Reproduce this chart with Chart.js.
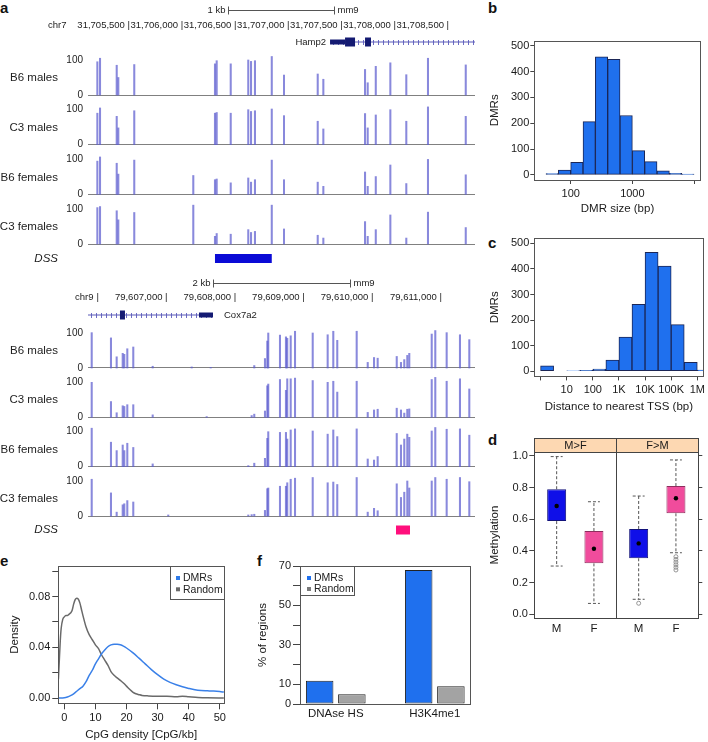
<!DOCTYPE html>
<html>
<head>
<meta charset="utf-8">
<script src="https://cdn.jsdelivr.net/npm/chart.js@4.4.1/dist/chart.umd.min.js"></script>
<style>
  html, body { margin: 0; padding: 0; background: #fff; }
  #fig { position: relative; width: 708px; height: 742px; overflow: hidden; font-family: 'Liberation Sans', Arial, sans-serif; }
  #fig canvas { position: absolute; }
  .tag { position: absolute; font-weight: bold; font-size: 15px; line-height: 16px; color: #111; }
</style>
</head>
<body>
<div id="fig">
  <div class="tag" style="left:0px;top:0px">a</div>
  <div class="tag" style="left:488px;top:0px">b</div>
  <div class="tag" style="left:488px;top:235px">c</div>
  <div class="tag" style="left:488px;top:432px">d</div>
  <div class="tag" style="left:0px;top:553px">e</div>
  <div class="tag" style="left:257px;top:553px">f</div>
</div>
<script>
// ---- panel a : methylation at CpG sites (% methylated) ----
const trackNames = ['B6 males', 'C3 males', 'B6 females', 'C3 females'];

const hampCpG = [31705193, 31705218, 31705375, 31705390, 31705540, 31706095, 31706299, 31706315, 31706447, 31706612,
  31706638, 31706675, 31706833, 31706948, 31707265, 31707318, 31707710, 31707735, 31707811, 31707948,
  31708098, 31708302, 31708657];
const hampB6m = [95, 105, 85, 50, 87, null, 89, 98, 89, 100, 96, 98, 110, 57, 60, 45, 73, 35, 82, 92, 58, 105, 86];
const hampC3m = [90, 105, 81, 48, 97, null, 90, 92, 90, 100, 95, 97, 102, 83, 67, 45, 89, 48, 85, 100, 67, 108, 81];
const hampB6f = [95, 107, 89, 58, 98, 54, 42, 44, 33, 47, 35, 42, 98, 42, 35, 23, 64, 23, 51, 84, 31, 100, 56];
const hampC3f = [104, 107, 95, 69, 90, 111, 22, 30, 28, 41, 33, 36, 111, 43, 25, 17, 64, 22, 41, 83, 17, 91, 47];
const hampTicks = [31705500, 31706000, 31706500, 31707000, 31707500, 31708000, 31708500];
const hampGeneSpan = [31707381, 31708800];
const hampUtr = [[31707381, 31707522]];
const hampCds = [[31707522, 31707616], [31707710, 31707766]];
const hampDss = [31706299, 31706833];

const coxCpG = [79605894, 79606175, 79606258, 79606346, 79606369, 79606413, 79606500, 79606783, 79607010, 79607352,
  79607570, 79607629, 79608177, 79608226, 79608264, 79608420, 79608454, 79608468, 79608639, 79608726,
  79608745, 79608795, 79608858, 79609116, 79609334, 79609416, 79609474, 79609757, 79609918, 79610010,
  79610063, 79610341, 79610403, 79610451, 79610495, 79610524, 79610851, 79610903, 79611069, 79611263, 79611399];
const coxB6m = [101, 86, 32, 42, 39, 55, 60, 5, null, 3, null, 2, null, null, 7, 27, 77, 100, 94, 89, 85, 92, 105, 100,
  95, 105, 79, 105, 16, 30, 28, 33, 16, 24, 36, 42, 97, 107, 101, 95, 81];
const coxC3m = [100, 45, 13, 33, 31, 36, 36, 7, null, null, 2, null, null, 5, 9, 18, 90, 95, 108, 77, 110, 110, 112, 105,
  100, 103, 72, 103, 14, 21, 23, 26, 21, 12, 23, 24, 108, 114, 103, 110, 81];
const coxB6f = [110, 70, 46, 62, 46, 67, 55, 8, null, null, null, null, 3, null, 10, 24, 81, 100, 98, 98, 79, 105, 108, 102,
  93, 105, 86, 108, 22, 19, 29, 95, 62, 79, 93, 84, 102, 112, 107, 108, 90];
const coxC3f = [105, 66, 11, 32, 35, 44, 40, null, 3, null, null, null, 3, 4, 5, 16, 78, 80, 85, 85, 95, 105, 108, 110,
  95, 97, 90, 110, 11, 22, 15, 92, 53, 68, 100, 80, 100, 110, 105, 110, 98];
const coxTicks = [79606000, 79607000, 79608000, 79609000, 79610000, 79611000];
const coxGeneSpan = [79605700, 79607662];
const coxUtr = [[79607458, 79607662]];
const coxCds = [[79606306, 79606379]];
const coxDss = [79610330, 79610534];

// ---- panel b / c : histograms (log10 bin centres) ----
const countTicks = [0, 100, 200, 300, 400, 500];
const sizeBins = [1.7, 1.9, 2.1, 2.3, 2.5, 2.7, 2.9, 3.1, 3.3, 3.5, 3.7, 3.9];
const sizeCounts = [5, 18, 48, 206, 457, 447, 230, 94, 51, 16, 6, 3];
const sizeTicks = [2, 3, 4];
const sizeLabels = ['100', '1000', ''];
const tssBins = [0.25, 0.75, 1.25, 1.75, 2.25, 2.75, 3.25, 3.75, 4.25, 4.75, 5.25, 5.75, 6.25];
const tssCounts = [21, 0, 2, 4, 9, 44, 134, 262, 465, 411, 182, 35, 5];
const tssTicks = [0, 1, 2, 3, 4, 5, 6];
const tssLabels = ['', '10', '100', '1K', '10K', '100K', '1M'];

// ---- panel d : methylation boxplots ----
const dPanels = ['M>F', 'F>M'];
const dGroups = ['M', 'F', 'M', 'F'];
const dLow = [0.305, 0.069, 0.095, 0.389];
const dQ1 = [0.589, 0.322, 0.354, 0.638];
const dMed = [0.684, 0.414, 0.448, 0.733];
const dQ3 = [0.79, 0.526, 0.539, 0.81];
const dHigh = [0.996, 0.711, 0.747, 0.975];
const dOutliers = [[], [], [0.07], [0.364, 0.347, 0.33, 0.313, 0.297, 0.28]];
const methTicks = [0, 0.2, 0.4, 0.6, 0.8, 1.0];

// ---- panel e : CpG density curves ----
const randX = [-1.9, -1.6, -1.3, -1, -0.5, 0, 0.5, 1, 1.5, 2, 2.5, 3, 3.5, 4, 4.5, 5, 5.5, 6, 7, 8, 9, 10, 11, 12, 13, 14,
  15, 16, 17, 18, 19, 20, 21, 22, 23, 24, 25, 27, 30, 33, 36, 38, 40, 43, 46, 51.3];
const randY = [0.015, 0.03, 0.045, 0.055, 0.062, 0.064, 0.065, 0.065, 0.066, 0.067, 0.069, 0.074, 0.0775, 0.0787, 0.078,
  0.075, 0.070, 0.065, 0.056, 0.050, 0.046, 0.042, 0.039, 0.034, 0.030, 0.026, 0.021, 0.018, 0.016, 0.014, 0.012,
  0.0095, 0.007, 0.0048, 0.0035, 0.0028, 0.0022, 0.0018, 0.0016, 0.0016, 0.0012, 0.0016, 0.0012, 0.0006, 0.0003, 0.0002];
const dmrX = [-1.9, 0, 1, 2, 3, 4, 5, 6, 7, 8, 9, 10, 11, 12, 13, 14, 15, 16, 17, 18, 19, 20, 22, 24, 26, 28, 30, 32, 34,
  36, 38, 40, 42, 44, 46, 48, 50, 51.3];
const dmrY = [0.0002, 0.0004, 0.001, 0.002, 0.0035, 0.0055, 0.0075, 0.0095, 0.013, 0.018, 0.022, 0.027, 0.031, 0.035,
  0.038, 0.0405, 0.042, 0.0425, 0.0424, 0.042, 0.041, 0.0395, 0.0358, 0.0315, 0.027, 0.0225, 0.0185, 0.015, 0.0125,
  0.0106, 0.009, 0.0077, 0.0066, 0.006, 0.0058, 0.0056, 0.0052, 0.0048];
const densTicksX = [0, 10, 20, 30, 40, 50];
const densTicksY = [0, 0.02, 0.04, 0.06, 0.08, 0.10];
const densLabelled = [0, 0.04, 0.08];

// ---- panel f : overlap with regulatory marks ----
const marks = ['DNAse HS', 'H3K4me1'];
const dmrPct = [11.8, 68.0];
const randomPct = [4.9, 9.0];
const pctTicks = [0, 10, 20, 30, 40, 50, 60, 70];
const pctLabelled = [0, 10, 30, 50, 70];

// ---------------------------------------------------------------
const FONT = "'Liberation Sans', Arial, Helvetica, sans-serif";
const BLUE = '#1f70ee';
const GREY = '#a3a3a3';
const GENE = '#141a72';
Chart.defaults.font.family = FONT;
Chart.defaults.font.size = 11;
Chart.defaults.color = '#1a1a1a';
Chart.defaults.animation = false;
Chart.defaults.responsive = false;
Chart.defaults.events = [];
Chart.defaults.plugins.legend.display = false;
Chart.defaults.plugins.tooltip.enabled = false;

function panel(left, top, w, h) {
  const c = document.createElement('canvas');
  c.width = w; c.height = h;
  c.style.left = left + 'px'; c.style.top = top + 'px';
  c.style.width = w + 'px'; c.style.height = h + 'px';
  document.getElementById('fig').appendChild(c);
  return c;
}

// box around the plotting region (R style)
const frame = {
  id: 'frame',
  afterDatasetsDraw(chart) {
    const a = chart.chartArea, c = chart.ctx;
    c.save();
    c.strokeStyle = '#555'; c.lineWidth = 1;
    c.strokeRect(Math.round(a.left) + 0.5, Math.round(a.top) + 0.5, Math.round(a.right - a.left), Math.round(a.bottom - a.top));
    c.restore();
  }
};

function legendBox(side, w, h, dx, rows) {
  return {
    id: 'legendBox',
    afterDraw(chart) {
      const {ctx, chartArea: a} = chart;
      const x0 = side === 'right' ? Math.round(a.right) - w : Math.round(a.left);
      const y0 = Math.round(a.top);
      ctx.save();
      ctx.fillStyle = '#fff'; ctx.fillRect(x0, y0, w, h);
      ctx.strokeStyle = '#555'; ctx.lineWidth = 1;
      ctx.strokeRect(x0 + 0.5, y0 + 0.5, w, h);
      ctx.font = '10.5px ' + FONT; ctx.textBaseline = 'middle'; ctx.textAlign = 'left';
      chart.data.datasets.forEach((ds, i) => {
        const y = y0 + rows[i];
        ctx.fillStyle = ds.legendColor;
        ctx.fillRect(x0 + dx, y - 2, 4, 4);
        ctx.fillStyle = '#222';
        ctx.fillText(ds.label, x0 + dx + 7, y + 0.5);
      });
      ctx.restore();
    }
  };
}

// ---------------- panel a ----------------
const K = 0.35;   // pixels per methylation percent inside a track

function seg(list, row, width, color, order) {
  const data = [];
  list.forEach(s => { data.push({x: s[0], y: row}, {x: s[1], y: row}, {x: s[1], y: null}); });
  return {type: 'line', data, borderColor: color, borderWidth: width, pointRadius: 0,
    borderCapStyle: 'butt', spanGaps: false, order};
}

function regionAnnot(r) {
  return {
    id: 'regionAnnot',
    beforeDatasetsDraw(chart) {
      const {ctx, chartArea: a, scales: {x, y}} = chart;
      const yy = Math.round(y.getPixelForValue(r.geneRow));
      const x0 = Math.max(x.getPixelForValue(r.geneSpan[0]), a.left);
      const x1 = Math.min(x.getPixelForValue(r.geneSpan[1]), a.right);
      ctx.save();
      ctx.strokeStyle = '#6d6dc4'; ctx.lineWidth = 1;
      for (let px = Math.round(x0) + 3; px < x1 - 1; px += 5) {
        ctx.beginPath(); ctx.moveTo(px + 0.5, yy - 2); ctx.lineTo(px + 0.5, yy + 3); ctx.stroke();
      }
      ctx.restore();
    },
    afterDraw(chart) {
      const {ctx, scales: {x, y}} = chart;
      ctx.save();
      ctx.fillStyle = '#222';
      ctx.textBaseline = 'middle';
      // scale bar
      const xa = Math.round(x.getPixelForValue(r.barStart)) + 0.5;
      const xb = Math.round(x.getPixelForValue(r.barStart + r.barLen)) + 0.5;
      ctx.strokeStyle = '#555'; ctx.lineWidth = 1;
      ctx.beginPath();
      ctx.moveTo(xa, r.barY); ctx.lineTo(xb, r.barY);
      ctx.moveTo(xa, r.barY - 4); ctx.lineTo(xa, r.barY + 4);
      ctx.moveTo(xb, r.barY - 4); ctx.lineTo(xb, r.barY + 4);
      ctx.stroke();
      ctx.font = '9.5px ' + FONT;
      ctx.textAlign = 'right'; ctx.fillText(r.barText, xa - 3, r.barY);
      ctx.textAlign = 'left'; ctx.fillText('mm9', xb + 3, r.barY);
      ctx.fillText(r.chr, r.chrX, r.chrY);
      // gene label
      ctx.textAlign = r.geneAlign;
      ctx.fillText(r.geneName, r.geneLabelX, y.getPixelForValue(r.geneRow));
      // track names
      ctx.font = '11.5px ' + FONT;
      ctx.textAlign = 'right';
      r.bases.forEach((b, i) => ctx.fillText(trackNames[i], 58, y.getPixelForValue(b + 17)));
      ctx.font = 'italic 11.5px ' + FONT;
      ctx.fillText('DSS', 58, y.getPixelForValue(r.dssRow));
      ctx.restore();
    }
  };
}

function regionChart(canvas, r) {
  const zeroSet = new Set(r.bases);
  const datasets = [
    seg([r.dss], r.dssRow, 9, r.dssColor, 0),
    seg(r.cds, r.geneRow, 9, GENE, 1),
    seg(r.utr, r.geneRow, 5, GENE, 2),
    seg([r.geneSpan], r.geneRow, 1, '#5a5ab8', 3)
  ];
  r.tracks.forEach((vals, i) => {
    datasets.push({
      type: 'bar',
      data: r.cpg.map((pos, j) => vals[j] == null ? null : {x: pos, y: [r.bases[i], r.bases[i] + vals[j] * K]}).filter(Boolean),
      backgroundColor: 'rgba(92,92,206,0.72)',
      barThickness: 1.4,
      grouped: false,
      order: 4
    });
  });
  const yTicks = r.bases.flatMap(b => [b, b + 100 * K]).sort((p, q) => p - q);
  return new Chart(canvas, {
    type: 'bar',
    data: {datasets},
    options: {
      layout: {padding: r.pad},
      scales: {
        x: {
          type: 'linear', position: 'top', offset: false, min: r.xmin, max: r.xmax,
          afterBuildTicks: s => { s.ticks = r.coordTicks.map(v => ({value: v})); },
          ticks: {autoSkip: false, maxRotation: 0, align: 'end', padding: 3, font: {size: 9.5}, color: '#222',
            callback: v => (v === r.bareTick ? '' : v.toLocaleString('en-US') + ' ') + '|'},
          grid: {display: false, drawTicks: false, tickLength: 0}, border: {display: false},
          afterFit: s => { s.height = r.axisH; }
        },
        y: {
          min: 0, max: r.ymax,
          afterBuildTicks: s => { s.ticks = yTicks.map(v => ({value: v})); },
          ticks: {padding: 5, font: {size: 10}, color: '#222', callback: v => zeroSet.has(v) ? '0' : '100'},
          grid: {drawTicks: false, tickLength: 0, lineWidth: 1,
            color: c => (c.tick && zeroSet.has(c.tick.value)) ? '#808080' : 'rgba(0,0,0,0)'},
          border: {display: false},
          afterFit: s => { s.width = 88; }
        }
      }
    },
    plugins: [regionAnnot(r)]
  });
}

regionChart(panel(0, 0, 480, 282), {
  cpg: hampCpG, tracks: [hampB6m, hampC3m, hampB6f, hampC3f],
  xmin: 31705105, xmax: 31708744, coordTicks: hampTicks, bareTick: null,
  bases: [173, 123.3, 73.6, 24], ymax: 234, geneRow: 226, dssRow: 9.5,
  pad: {top: 16, right: 5, bottom: 14, left: 0}, axisH: 18,
  geneSpan: hampGeneSpan, utr: hampUtr, cds: hampCds, dss: hampDss, dssColor: '#0b0bd6',
  geneName: 'Hamp2', geneAlign: 'right', geneLabelX: 326,
  barStart: 31706422, barLen: 1000, barText: '1 kb', barY: 10.5,
  chr: 'chr7', chrX: 48, chrY: 25.5
});

regionChart(panel(0, 270, 480, 284), {
  cpg: coxCpG, tracks: [coxB6m, coxC3m, coxB6f, coxC3f],
  xmin: 79605840, xmax: 79611482, coordTicks: coxTicks, bareTick: 79606000,
  bases: [172, 122.7, 73.3, 24], ymax: 234, geneRow: 225, dssRow: 10,
  pad: {top: 14, right: 5, bottom: 14, left: 0}, axisH: 22,
  geneSpan: coxGeneSpan, utr: coxUtr, cds: coxCds, dss: coxDss, dssColor: '#ff0f7c',
  geneName: 'Cox7a2', geneAlign: 'left', geneLabelX: 224,
  barStart: 79607662, barLen: 2000, barText: '2 kb', barY: 13.5,
  chr: 'chr9', chrX: 75, chrY: 27.5
});

// ---------------- panels b, c ----------------
function histChart(canvas, o) {
  return new Chart(canvas, {
    type: 'bar',
    data: {datasets: [{
      data: o.mids.map((m, i) => ({x: m, y: o.counts[i]})),
      backgroundColor: BLUE, borderColor: '#1b2656', borderWidth: 1, borderSkipped: false,
      barPercentage: 1, categoryPercentage: 1
    }]},
    options: {
      layout: {padding: o.pad},
      scales: {
        x: {
          type: 'linear', offset: false, min: o.xmin, max: o.xmax,
          afterBuildTicks: s => { s.ticks = o.ticks.map(v => ({value: v})); },
          ticks: {autoSkip: false, maxRotation: 0, padding: o.xpad, callback: (v, i) => o.labels[i]},
          grid: {offset: false, drawOnChartArea: false, tickLength: 4, color: '#444'},
          border: {display: false},
          title: {display: true, text: o.title, padding: 0, font: {size: 11.5}},
          afterFit: s => { s.height = o.xh; }
        },
        y: {
          min: -20, max: 520,
          afterBuildTicks: s => { s.ticks = countTicks.map(v => ({value: v})); },
          ticks: {padding: 1},
          grid: {drawOnChartArea: false, tickLength: 4, color: '#444'},
          border: {display: false},
          title: {display: true, text: 'DMRs', padding: 0, font: {size: 11.5}},
          afterFit: s => { s.width = 46.3; }
        }
      }
    },
    plugins: [frame]
  });
}

histChart(panel(480, 0, 228, 222), {
  mids: sizeBins, counts: sizeCounts, ticks: sizeTicks, labels: sizeLabels,
  xmin: 1.41, xmax: 4.108, title: 'DMR size (bp)',
  pad: {left: 8, top: 40.6, right: 7.3, bottom: 6.1}, xh: 35.9, xpad: 3.4
});

histChart(panel(480, 222, 228, 194), {
  mids: tssBins, counts: tssCounts, ticks: tssTicks, labels: tssLabels,
  xmin: -0.24, xmax: 6.24, title: 'Distance to nearest TSS (bp)',
  pad: {left: 8, top: 16.2, right: 2, bottom: 2.1}, xh: 37.5, xpad: 3
});

// ---------------- panel d ----------------
const boxX = [1, 2, 3.2, 4.2];
const panelRange = [[0.4, 2.6], [2.6, 4.8]];
const CAP = 0.16;
const boxFill = ['#0f0fe8', '#f04c9c', '#0f0fe8', '#f04c9c'];
const boxEdge = ['#12127a', '#8e2e5e', '#12127a', '#8e2e5e'];

const whiskers = [];
boxX.forEach((x, i) => {
  whiskers.push({x, y: dQ3[i]}, {x, y: dHigh[i]}, {x, y: null});
  whiskers.push({x: x - CAP, y: dHigh[i]}, {x: x + CAP, y: dHigh[i]}, {x, y: null});
  whiskers.push({x, y: dQ1[i]}, {x, y: dLow[i]}, {x, y: null});
  whiskers.push({x: x - CAP, y: dLow[i]}, {x: x + CAP, y: dLow[i]}, {x, y: null});
});

const strips = {
  id: 'strips',
  afterDraw(chart) {
    const {ctx, chartArea: a, scales: {x}} = chart;
    const h = 13.4;
    ctx.save();
    ctx.lineWidth = 1; ctx.strokeStyle = '#444';
    ctx.font = '11px ' + FONT; ctx.textAlign = 'center'; ctx.textBaseline = 'middle';
    panelRange.forEach((p, i) => {
      const x0 = Math.round(x.getPixelForValue(p[0])) + 0.5, x1 = Math.round(x.getPixelForValue(p[1])) + 0.5;
      const top = Math.round(a.top - h) + 0.5, bot = Math.round(a.top) + 0.5;
      ctx.fillStyle = '#fdd8b2'; ctx.fillRect(x0, top, x1 - x0, bot - top);
      ctx.strokeRect(x0, top, x1 - x0, bot - top);
      ctx.fillStyle = '#1a1a1a'; ctx.fillText(dPanels[i], (x0 + x1) / 2, (top + bot) / 2 + 0.5);
      ctx.strokeRect(x0, bot, x1 - x0, Math.round(a.bottom) - bot + 0.5);
    });
    ctx.restore();
  }
};

new Chart(panel(480, 425, 228, 225), {
  type: 'bar',
  data: {datasets: [
    {type: 'bar', data: boxX.map((x, i) => ({x, y: [dQ1[i], dQ3[i]]})), backgroundColor: boxFill, borderColor: boxEdge,
      borderWidth: 1, borderSkipped: false, barPercentage: 0.51, categoryPercentage: 1, order: 2},
    {type: 'line', data: whiskers, borderColor: '#555', borderWidth: 1, borderDash: [3, 2], pointRadius: 0,
      spanGaps: false, order: 3},
    {type: 'scatter', data: boxX.map((x, i) => ({x, y: dMed[i]})), pointRadius: 2.2, backgroundColor: '#000',
      borderWidth: 0, order: 1},
    {type: 'scatter', data: dOutliers.flatMap((list, i) => list.map(v => ({x: boxX[i], y: v}))), pointRadius: 2,
      backgroundColor: 'rgba(0,0,0,0)', borderColor: '#8a8a8a', borderWidth: 0.9, order: 1}
  ]},
  options: {
    layout: {padding: {left: 8.1, top: 26.7, right: 0, bottom: 0}},
    scales: {
      x: {
        type: 'linear', offset: false, min: 0.4, max: 4.8,
        afterBuildTicks: s => { s.ticks = boxX.map(v => ({value: v})); },
        ticks: {autoSkip: false, maxRotation: 0, padding: 4.1, font: {size: 11.5}, callback: (v, i) => dGroups[i]},
        grid: {display: false, drawTicks: false, tickLength: 0}, border: {display: false},
        afterFit: s => { s.height = 31.7; }
      },
      y: {
        min: -0.025, max: 1.027,
        afterBuildTicks: s => { s.ticks = methTicks.map(v => ({value: v})); },
        ticks: {padding: 1.5, callback: v => v.toFixed(1)},
        grid: {drawOnChartArea: false, tickLength: 5, color: '#444'},
        border: {display: false},
        title: {display: true, text: 'Methylation', padding: 0, font: {size: 11.5}},
        afterFit: s => { s.width = 46.2; }
      },
      y2: {
        position: 'right', min: -0.025, max: 1.027,
        afterBuildTicks: s => { s.ticks = methTicks.map(v => ({value: v})); },
        ticks: {display: false},
        grid: {drawOnChartArea: false, tickLength: 4, color: '#444'},
        border: {display: false},
        afterFit: s => { s.width = 9.7; }
      }
    }
  },
  plugins: [strips]
});

// ---------------- panel e ----------------
new Chart(panel(0, 550, 250, 192), {
  type: 'line',
  data: {datasets: [
    {label: 'DMRs', data: dmrX.map((x, i) => ({x, y: dmrY[i]})), borderColor: '#3a80e8', legendColor: '#2f7be8',
      borderWidth: 1.5, pointRadius: 0, cubicInterpolationMode: 'monotone'},
    {label: 'Random', data: randX.map((x, i) => ({x, y: randY[i]})), borderColor: '#6a6a6a', legendColor: '#6a6a6a',
      borderWidth: 1.5, pointRadius: 0, cubicInterpolationMode: 'monotone'}
  ]},
  options: {
    layout: {padding: {left: 8.1, top: 16, right: 26, bottom: 0}},
    scales: {
      x: {
        type: 'linear', min: -1.93, max: 51.35,
        afterBuildTicks: s => { s.ticks = densTicksX.map(v => ({value: v})); },
        ticks: {autoSkip: false, maxRotation: 0, padding: 2.4},
        grid: {drawOnChartArea: false, tickLength: 6, color: '#444'},
        border: {display: false},
        title: {display: true, text: 'CpG density [CpG/kb]', padding: 0, font: {size: 11.5}},
        afterFit: s => { s.height = 38.7; }
      },
      y: {
        min: -0.004, max: 0.104,
        afterBuildTicks: s => { s.ticks = densTicksY.map(v => ({value: v})); },
        ticks: {padding: 2, callback: v => densLabelled.some(l => Math.abs(l - v) < 1e-9) ? v.toFixed(2) : ''},
        grid: {drawOnChartArea: false, tickLength: 6, color: '#444'},
        border: {display: false},
        title: {display: true, text: 'Density', padding: 0, font: {size: 11.5}},
        afterFit: s => { s.width = 50.2; }
      }
    }
  },
  plugins: [frame, legendBox('right', 54, 33, 6, [12, 23.3])]
});

// ---------------- panel f ----------------
const groupCentre = [1.3, 4.9];
const HALF = 0.585;
new Chart(panel(250, 550, 230, 192), {
  type: 'bar',
  data: {datasets: [
    {label: 'DMRs', data: dmrPct.map((v, i) => ({x: groupCentre[i] - HALF, y: v})), backgroundColor: BLUE,
      legendColor: BLUE, borderColor: '#222', borderWidth: 1, borderSkipped: false, grouped: false,
      barPercentage: 0.855, categoryPercentage: 1},
    {label: 'Random', data: randomPct.map((v, i) => ({x: groupCentre[i] + HALF, y: v})), backgroundColor: GREY,
      legendColor: '#7a7a7a', borderColor: '#222', borderWidth: 1, borderSkipped: false, grouped: false,
      barPercentage: 0.855, categoryPercentage: 1}
  ]},
  options: {
    layout: {padding: {left: 6.1, top: 16, right: 10, bottom: 0}},
    scales: {
      x: {
        type: 'linear', offset: false, min: 0, max: 6.18,
        afterBuildTicks: s => { s.ticks = groupCentre.map(v => ({value: v})); },
        ticks: {autoSkip: false, maxRotation: 0, padding: 3.1, font: {size: 11.5}, callback: (v, i) => marks[i]},
        grid: {display: false, drawTicks: false, tickLength: 0}, border: {display: false},
        afterFit: s => { s.height = 38; }
      },
      y: {
        min: 0, max: 70,
        afterBuildTicks: s => { s.ticks = pctTicks.map(v => ({value: v})); },
        ticks: {padding: 2, callback: v => pctLabelled.includes(v) ? String(v) : ''},
        grid: {drawOnChartArea: false, tickLength: 7, color: '#444'},
        border: {display: false},
        title: {display: true, text: '% of regions', padding: 0, font: {size: 11.5}},
        afterFit: s => { s.width = 43.9; }
      }
    }
  },
  plugins: [frame, legendBox('left', 54, 29, 7, [12, 23])]
});
</script>
</body>
</html>
